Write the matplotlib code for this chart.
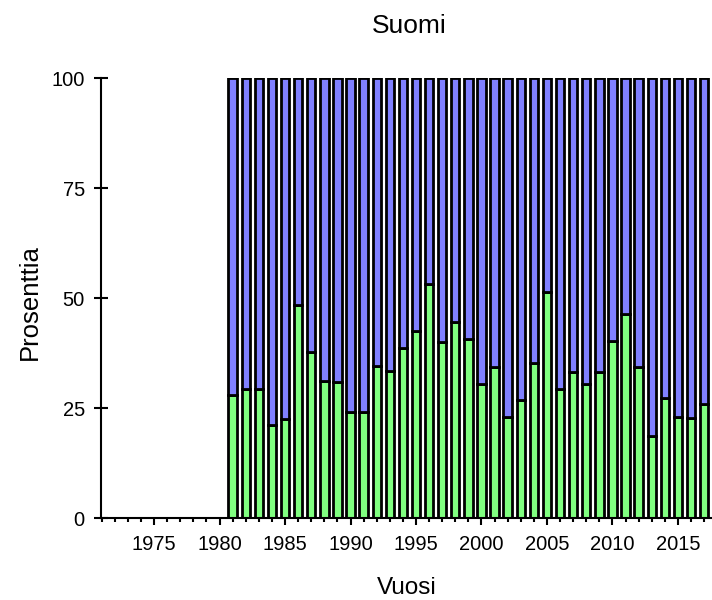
import matplotlib
matplotlib.use("Agg")
import matplotlib.pyplot as plt
from matplotlib.ticker import MultipleLocator

plt.rcParams['font.family'] = ['Liberation Sans', 'DejaVu Sans']

years = list(range(1981, 2018))
green = [28.0, 29.3, 29.3, 21.1, 22.5, 48.4, 37.8, 31.1, 30.8, 24.0,
         24.0, 34.5, 33.3, 38.7, 42.5, 53.1, 39.9, 44.5, 40.6, 30.4,
         34.3, 23.0, 26.8, 35.2, 51.4, 29.3, 33.1, 30.4, 33.1, 40.3,
         46.4, 34.4, 18.7, 27.2, 23.0, 22.7, 25.8]
blue = [100 - g for g in green]

yticks = [0, 25, 50, 75, 100]
xticks = [1975, 1980, 1985, 1990, 1995, 2000, 2005, 2010, 2015]

fig = plt.figure(figsize=(7.12, 6.0), dpi=100)
ax = fig.add_axes([101 / 712, 82 / 600, 611 / 712, 440 / 600])

ax.bar(years, green, width=0.64, color='#80ff80', edgecolor='black', linewidth=2)
ax.bar(years, blue, bottom=green, width=0.64, color='#8080ff', edgecolor='black', linewidth=2)

ax.set_xlim(1970.95, 2017.6)
ax.set_ylim(0, 100)
ax.set_yticks(yticks)
ax.set_xticks(xticks)
ax.xaxis.set_minor_locator(MultipleLocator(1))

for s in ['top', 'right']:
    ax.spines[s].set_visible(False)
for s in ['left', 'bottom']:
    ax.spines[s].set_linewidth(1.5)

ax.tick_params(axis='y', direction='inout', length=9.4, width=1.5, labelsize=14.5, pad=7)
ax.tick_params(axis='x', which='major', direction='out', length=5, width=1.5, labelsize=14.5, pad=7.5)
ax.tick_params(axis='x', which='minor', direction='out', length=3, width=1.5)

fig.text(409 / 712, 1 - 33 / 600, 'Suomi', ha='center', va='baseline', fontsize=19)
fig.text(407 / 712, 1 - 594 / 600, 'Vuosi', ha='center', va='baseline', fontsize=17.5)
fig.text(30 / 712, 1 - 302 / 600, 'Prosenttia', ha='center', va='center', rotation=90, fontsize=18.5)

fig.savefig('out.png', dpi=100)
